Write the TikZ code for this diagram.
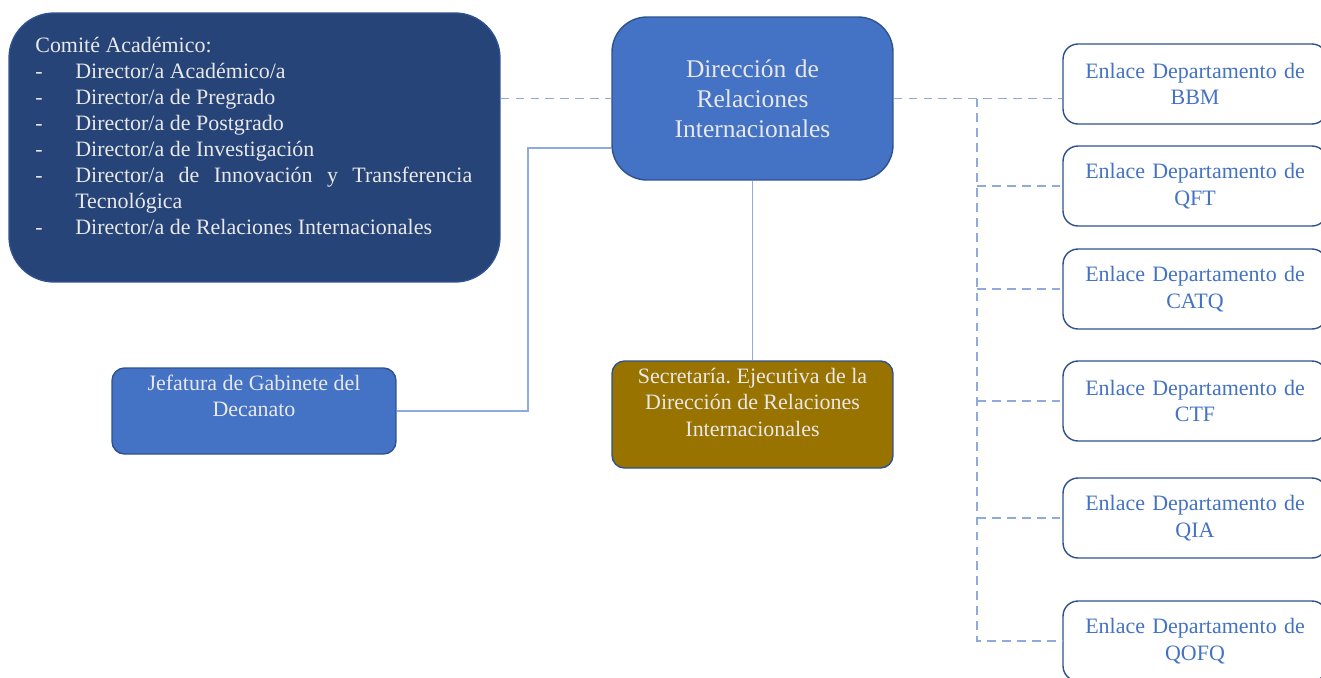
\documentclass[tikz,border=0pt]{standalone}
\usepackage{fontspec}
\setmainfont{Liberation Serif}
\frenchspacing

\definecolor{navy}{HTML}{264478}
\definecolor{midblue}{HTML}{4472C4}
\definecolor{gold}{HTML}{997300}
\definecolor{edge}{HTML}{2F528F}
\definecolor{linkblue}{HTML}{8FAADC}
\definecolor{paletext}{HTML}{E8E8E8}

\tikzset{
  unit/.style={draw=edge, line width=0.8pt, rounded corners=0.25cm, align=center,
    text=paletext, font=\fontsize{12.5}{15}\selectfont, inner sep=2pt},
  enlace/.style={unit, fill=white, text=midblue, minimum width=5.28cm,
    minimum height=1.6cm, text width=5cm, rounded corners=0.3cm},
  link/.style={linkblue, line width=0.6pt},
  dashlink/.style={link, dash pattern=on 5pt off 3.5pt},
}
\newcommand{\topbox}[3]{\parbox[c][#1][t]{#2}{\centering\vspace*{2pt}#3\par}}

\begin{document}
\begin{tikzpicture}[x=0.02cm, y=-0.02cm]
\useasboundingbox (0,0) rectangle (1321,677);

\node[unit, fill=navy, rounded corners=0.9cm, minimum width=9.82cm, minimum height=5.38cm] (com) at (254.5,147.5) {};
\node[anchor=north west, inner sep=0pt, text=paletext, font=\fontsize{12.5}{14.8}\selectfont] (comtext) at (35,37)
 {\begin{minipage}[t]{8.74cm}\setlength{\parindent}{0pt}\hyphenpenalty=10000\tolerance=10000
  Comité Académico:\par
  \hangindent=0.8cm\hangafter=1\makebox[0.8cm][l]{-}Director/a Académico/a\par
  \hangindent=0.8cm\hangafter=1\makebox[0.8cm][l]{-}Director/a de Pregrado\par
  \hangindent=0.8cm\hangafter=1\makebox[0.8cm][l]{-}Director/a de Postgrado\par
  \hangindent=0.8cm\hangafter=1\makebox[0.8cm][l]{-}Director/a de Investigación\par
  \hangindent=0.8cm\hangafter=1\makebox[0.8cm][l]{-}Director/a de Innovación y Transferencia Tecnológica\par
  \hangindent=0.8cm\hangafter=1\makebox[0.8cm][l]{-}Director/a de Relaciones Internacionales\par
 \end{minipage}};

\node[unit, fill=midblue, rounded corners=0.7cm, minimum width=5.62cm, minimum height=3.26cm, text width=5cm,
  font=\fontsize{14.5}{17}\selectfont] (dir) at (752.5,98.5) {Dirección de\\ Relaciones\\ Internacionales};

\node[unit, fill=midblue, minimum width=5.68cm, minimum height=1.72cm]
  (jef) at (254,411) {\topbox{1.58cm}{5.3cm}{Jefatura de Gabinete del\\ Decanato}};

\node[unit, fill=gold, minimum width=5.62cm, minimum height=2.14cm]
  (sec) at (752.5,414.5) {\topbox{2.0cm}{5.3cm}{Secretaría. Ejecutiva de la\\ Dirección de Relaciones\\ Internacionales}};

\foreach \nm/\dep/\yy in {bbm/BBM/84, qft/QFT/186, catq/CATQ/289, ctf/CTF/401, qia/QIA/518, qofq/QOFQ/641}
  \node[enlace] (\nm) at (1195,\yy) {Enlace Departamento de\\ \dep};

\draw[dashlink] (dir.west -| com.east) -- (dir.west);
\coordinate (split) at (977,98.5);
\draw[dashlink] (dir.east) -- (bbm.west |- dir.east);
\draw[dashlink] (split) |- (qofq.west);
\foreach \nm in {qft,catq,ctf,qia}
  \draw[dashlink] (split |- \nm.west) -- (\nm.west);

\coordinate (jefknee) at (528,148);
\draw[link] (jef.east) -| (jefknee) -- (jefknee -| dir.west);
\draw[link] (dir) -- (sec);
\end{tikzpicture}
\end{document}
